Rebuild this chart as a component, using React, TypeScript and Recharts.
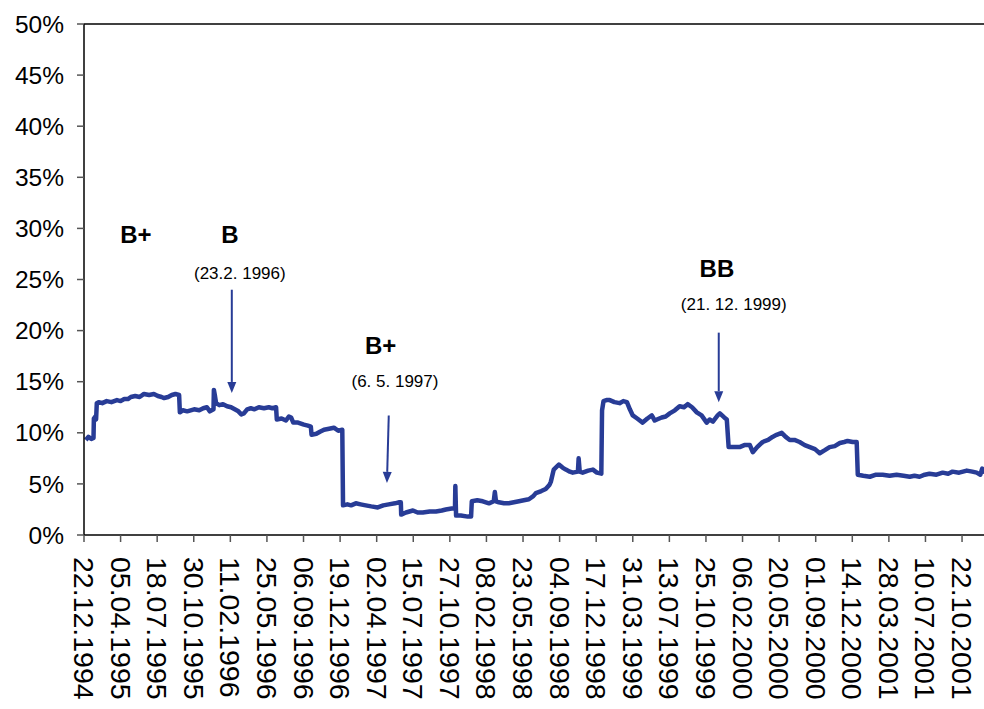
import { Line, LineChart, ReferenceDot, ReferenceLine, XAxis, YAxis } from 'recharts'

const dateLabels = [
  '22.12.1994', '05.04.1995', '18.07.1995', '30.10.1995', '11.02.1996',
  '25.05.1996', '06.09.1996', '19.12.1996', '02.04.1997', '15.07.1997',
  '27.10.1997', '08.02.1998', '23.05.1998', '04.09.1998', '17.12.1998',
  '31.03.1999', '13.07.1999', '25.10.1999', '06.02.2000', '20.05.2000',
  '01.09.2000', '14.12.2000', '28.03.2001', '10.07.2001', '22.10.2001',
]

const yTicks = [0, 5, 10, 15, 20, 25, 30, 35, 40, 45, 50]

// position along the date axis, in label intervals (0 = 22.12.1994)
const tradePos = [
  0.05, 0.12, 0.2, 0.26, 0.27, 0.31, 0.33, 0.35, 0.4, 0.5, 0.62, 0.75, 0.9, 1.0, 1.1, 1.2,
  1.28, 1.4, 1.52, 1.64, 1.78, 1.91, 2.02, 2.12, 2.19, 2.3, 2.4, 2.5, 2.6, 2.62, 2.7, 2.82,
  3.01, 3.15, 3.26, 3.36, 3.44, 3.54, 3.55, 3.58, 3.61, 3.7, 3.8, 3.91, 4.02, 4.12, 4.22, 4.3,
  4.37, 4.46, 4.56, 4.66, 4.78, 4.92, 5.05, 5.15, 5.25, 5.27, 5.4, 5.52, 5.6, 5.66, 5.72, 5.85,
  6.01, 6.12, 6.2, 6.22, 6.35, 6.45, 6.56, 6.7, 6.83, 6.95, 7.06, 7.08, 7.2, 7.3, 7.43, 7.56,
  7.7, 7.85, 8.03, 8.18, 8.33, 8.5, 8.62, 8.66, 8.67, 8.8, 8.99, 9.12, 9.26, 9.45, 9.62, 9.78,
  9.89, 10.05, 10.14, 10.15, 10.17, 10.3, 10.49, 10.58, 10.6, 10.75, 10.9, 11.07, 11.2, 11.23, 11.26, 11.34,
  11.48, 11.61, 11.75, 11.89, 12.02, 12.16, 12.28, 12.35, 12.5, 12.62, 12.72, 12.76, 12.84, 12.98, 13.08, 13.17,
  13.28, 13.36, 13.5, 13.52, 13.55, 13.63, 13.78, 13.91, 14.02, 14.14, 14.16, 14.2, 14.28, 14.37, 14.5, 14.64,
  14.74, 14.84, 14.92, 15.0, 15.12, 15.27, 15.4, 15.52, 15.6, 15.66, 15.79, 15.9, 16.01, 16.15, 16.28, 16.4,
  16.5, 16.62, 16.75, 16.88, 17.02, 17.1, 17.19, 17.32, 17.38, 17.5, 17.57, 17.62, 17.75, 17.92, 18.05, 18.2,
  18.28, 18.4, 18.55, 18.7, 18.82, 18.93, 19.07, 19.18, 19.29, 19.42, 19.56, 19.7, 19.84, 19.98, 20.11, 20.25,
  20.38, 20.52, 20.66, 20.78, 20.87, 21.01, 21.12, 21.15, 21.3, 21.48, 21.65, 21.83, 22.02, 22.21, 22.4, 22.57,
  22.7, 22.84, 22.98, 23.11, 23.3, 23.47, 23.62, 23.74, 23.92, 24.13, 24.28, 24.4, 24.5, 24.55, 24.6,
]

const yieldPct = [
  9.3, 9.6, 9.4, 9.5, 11.4, 11.6, 11.3, 12.9, 13.0, 12.9, 13.1, 13.0, 13.2, 13.1, 13.3, 13.3,
  13.5, 13.6, 13.5, 13.8, 13.7, 13.8, 13.6, 13.5, 13.4, 13.5, 13.7, 13.8, 13.7, 12.0, 12.2, 12.1,
  12.3, 12.2, 12.4, 12.5, 12.1, 12.3, 14.2, 13.6, 12.9, 12.7, 12.8, 12.6, 12.5, 12.3, 12.1, 11.8,
  11.9, 12.3, 12.4, 12.3, 12.5, 12.4, 12.5, 12.4, 12.5, 11.3, 11.4, 11.2, 11.6, 11.5, 11.0, 11.0,
  10.8, 10.7, 10.6, 9.8, 9.9, 10.1, 10.3, 10.4, 10.5, 10.2, 10.3, 2.9, 3.0, 2.9, 3.1, 3.0,
  2.9, 2.8, 2.7, 2.9, 3.0, 3.1, 3.2, 3.2, 2.0, 2.2, 2.4, 2.2, 2.2, 2.3, 2.3, 2.4,
  2.5, 2.6, 2.6, 4.8, 1.9, 1.9, 1.8, 1.8, 3.3, 3.4, 3.3, 3.1, 3.3, 4.2, 3.3, 3.2,
  3.1, 3.1, 3.2, 3.3, 3.4, 3.5, 3.8, 4.1, 4.3, 4.5, 4.9, 5.2, 6.4, 6.9, 6.6, 6.4,
  6.2, 6.1, 6.2, 7.5, 6.2, 6.1, 6.3, 6.4, 6.1, 6.0, 12.2, 13.1, 13.2, 13.2, 13.0, 12.9,
  13.1, 13.0, 12.3, 11.7, 11.4, 11.0, 11.4, 11.7, 11.2, 11.3, 11.5, 11.6, 11.9, 12.2, 12.6, 12.5,
  12.8, 12.5, 12.0, 11.7, 11.0, 11.3, 11.1, 11.7, 11.9, 11.5, 11.3, 8.6, 8.6, 8.6, 8.8, 8.8,
  8.1, 8.6, 9.1, 9.3, 9.6, 9.8, 10.0, 9.6, 9.3, 9.3, 9.1, 8.8, 8.6, 8.4, 8.0, 8.3,
  8.6, 8.7, 9.0, 9.1, 9.2, 9.1, 9.1, 5.9, 5.8, 5.7, 5.9, 5.9, 5.8, 5.9, 5.8, 5.7,
  5.8, 5.7, 5.9, 6.0, 5.9, 6.1, 6.0, 6.2, 6.1, 6.3, 6.2, 6.1, 5.9, 6.5, 6.0,
]

const chartData = tradePos.map((t, i) => ({ t, v: yieldPct[i] }))

const LINE = '#283c96'
const FONT = '"Liberation Sans", Arial, sans-serif'

// rating labels and the arrows pointing at the change dates
const ratingNotes = [
  { t: 1.42, v: 29.4, text: 'B+', bold: true },
  { t: 3.99, v: 29.4, text: 'B', bold: true },
  { t: 4.26, v: 25.6, text: '(23.2. 1996)', bold: false },
  { t: 8.11, v: 18.5, text: 'B+', bold: true },
  { t: 8.5, v: 15.0, text: '(6. 5. 1997)', bold: false },
  { t: 17.3, v: 26.1, text: 'BB', bold: true },
  { t: 17.76, v: 22.6, text: '(21. 12. 1999)', bold: false },
]

const arrows = [
  { t1: 4.04, v1: 24.0, t2: 4.04, v2: 13.9 },
  { t1: 8.33, v1: 11.7, t2: 8.28, v2: 5.1 },
  { t1: 17.35, v1: 19.8, t2: 17.35, v2: 13.0 },
]

function DateTick({ x, y, payload }: any) {
  return (
    <text
      transform={`translate(${x},${y}) rotate(90)`}
      textAnchor="start"
      dominantBaseline="central"
      fontSize={28.5}
      fontFamily={FONT}
      fill="#000"
    >
      {dateLabels[payload.value]}
    </text>
  )
}

function Arrow({ x1, y1, x2, y2 }: any) {
  const ang = Math.atan2(y2 - y1, x2 - x1)
  const len = 11
  const half = 4.5
  const bx = x2 - len * Math.cos(ang)
  const by = y2 - len * Math.sin(ang)
  const px = -Math.sin(ang) * half
  const py = Math.cos(ang) * half
  return (
    <g>
      <line x1={x1} y1={y1} x2={bx} y2={by} stroke={LINE} strokeWidth={2} />
      <polygon
        points={`${x2},${y2} ${bx + px},${by + py} ${bx - px},${by - py}`}
        fill={LINE}
      />
    </g>
  )
}

export default function App() {
  return (
    <div style={{ position: 'absolute', left: 0, top: 0, background: '#fff' }}>
      <LineChart
        width={984}
        height={709}
        data={chartData}
        margin={{ top: 24, right: 0, left: 0, bottom: 0 }}
      >
        <XAxis
          dataKey="t"
          type="number"
          domain={[0, 24.6]}
          allowDataOverflow
          ticks={dateLabels.map((_, i) => i)}
          interval={0}
          height={174}
          tickSize={7}
          tickMargin={15}
          tick={<DateTick />}
          axisLine={{ stroke: '#000', strokeWidth: 1.5 }}
          tickLine={{ stroke: '#555', strokeWidth: 1.5 }}
        />
        <YAxis
          type="number"
          domain={[0, 50]}
          ticks={yTicks}
          interval={0}
          width={84}
          tickSize={7}
          tickMargin={13}
          tickFormatter={(v) => `${v}%`}
          tick={{ fontSize: 24.5, fill: '#000', fontFamily: FONT }}
          axisLine={{ stroke: '#000', strokeWidth: 1.5 }}
          tickLine={{ stroke: '#555', strokeWidth: 1.5 }}
        />
        <ReferenceLine y={50} stroke="#000" strokeWidth={1.5} />
        <Line
          dataKey="v"
          type="linear"
          stroke={LINE}
          strokeWidth={4.5}
          strokeLinejoin="round"
          dot={false}
          isAnimationActive={false}
        />
        {arrows.map((a, i) => (
          <ReferenceLine
            key={`arrow-${i}`}
            segment={[
              { x: a.t1, y: a.v1 },
              { x: a.t2, y: a.v2 },
            ]}
            ifOverflow="visible"
            shape={(p: any) => <Arrow {...p} />}
          />
        ))}
        {ratingNotes.map((n) => (
          <ReferenceDot
            key={n.text}
            x={n.t}
            y={n.v}
            r={0}
            ifOverflow="visible"
            shape={(p: any) => (
              <text
                x={p.cx}
                y={p.cy}
                textAnchor="middle"
                dominantBaseline="central"
                fontFamily={FONT}
                fontSize={n.bold ? 24 : 17}
                fontWeight={n.bold ? 'bold' : 'normal'}
                fill="#000"
              >
                {n.text}
              </text>
            )}
          />
        ))}
      </LineChart>
    </div>
  )
}
